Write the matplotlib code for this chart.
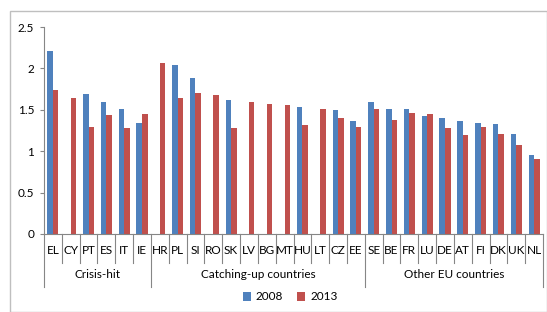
import matplotlib
matplotlib.use("Agg")
import matplotlib.pyplot as plt
import matplotlib.transforms as mtransforms
from matplotlib.patches import Rectangle
import numpy as np

countries = ["EL", "CY", "PT", "ES", "IT", "IE",
             "HR", "PL", "SI", "RO", "SK", "LV", "BG", "MT", "HU", "LT", "CZ", "EE",
             "SE", "BE", "FR", "LU", "DE", "AT", "FI", "DK", "UK", "NL"]
v2008 = [2.21, np.nan, 1.69, 1.59, 1.51, 1.34,
         np.nan, 2.04, 1.88, np.nan, 1.62, np.nan, np.nan, np.nan, 1.53, np.nan, 1.50, 1.37,
         1.60, 1.51, 1.51, 1.43, 1.40, 1.37, 1.34, 1.33, 1.21, 0.96]
v2013 = [1.74, 1.64, 1.29, 1.44, 1.28, 1.45,
         2.07, 1.64, 1.70, 1.68, 1.28, 1.60, 1.57, 1.56, 1.32, 1.51, 1.40, 1.29,
         1.51, 1.38, 1.46, 1.45, 1.28, 1.19, 1.29, 1.21, 1.08, 0.91]
groups = ["Crisis-hit", "Catching-up countries", "Other EU countries"]
group_sizes = [6, 12, 10]

BLUE = "#4F81BD"
RED = "#C0504D"
plt.rcParams["font.family"] = ["Lato", "DejaVu Sans"]
FS = 8.5

W, H = 547, 312
fig = plt.figure(figsize=(W / 100, H / 100), dpi=100)
fig.patches.append(Rectangle((10 / W, 0), (W - 10.5) / W, (H - 11) / H,
                             transform=fig.transFigure, fill=False,
                             edgecolor="#BFBFBF", lw=1.0))

ax = fig.add_axes([44 / W, (H - 234) / H, (543 - 44) / W, (234 - 27) / H])
n = len(countries)
x = np.arange(n)
bw = 0.31
ax.bar(x - bw / 2, v2008, bw, color=BLUE, label="2008")
ax.bar(x + bw / 2, v2013, bw, color=RED, label="2013")

ax.set_xlim(-0.5, n - 0.5)
ax.set_ylim(0, 2.5)
ax.set_yticks([0, 0.5, 1, 1.5, 2, 2.5])
ax.set_yticklabels(["0", "0.5", "1", "1.5", "2", "2.5"], fontsize=FS)
ax.tick_params(axis="y", length=3, color="#868686", width=0.8, pad=4)
ax.set_xticks([])
for s in ["top", "right"]:
    ax.spines[s].set_visible(False)
for s in ["left", "bottom"]:
    ax.spines[s].set_color("#868686")
    ax.spines[s].set_linewidth(0.8)

# hierarchical category axis
trans = mtransforms.blended_transform_factory(ax.transData, ax.transAxes)
ah = 234 - 27
y_lab = -(250 - 234) / ah
y_sep = -(263 - 234) / ah
y_grp_txt = -(275 - 234) / ah
y_grp_sep = -(287 - 234) / ah
for i, c in enumerate(countries):
    ax.text(i, y_lab, c, transform=trans, ha="center", va="center", fontsize=FS)
bounds = np.cumsum([0] + group_sizes) - 0.5
for i in range(n + 1):
    xb = i - 0.5
    bottom = y_grp_sep if xb in bounds else y_sep
    ax.plot([xb, xb], [0, bottom], transform=trans, color="#868686", lw=0.8, clip_on=False)
for g, a, b in zip(groups, bounds[:-1], bounds[1:]):
    ax.text((a + b) / 2, y_grp_txt, g, transform=trans, ha="center", va="center", fontsize=FS)

fig.legend(loc="center", bbox_to_anchor=(290 / W, (H - 297) / H), ncol=2, frameon=False,
           fontsize=FS, handlelength=0.7, handleheight=0.7, handletextpad=0.4,
           columnspacing=1.2)

fig.savefig("out.png", dpi=100)
